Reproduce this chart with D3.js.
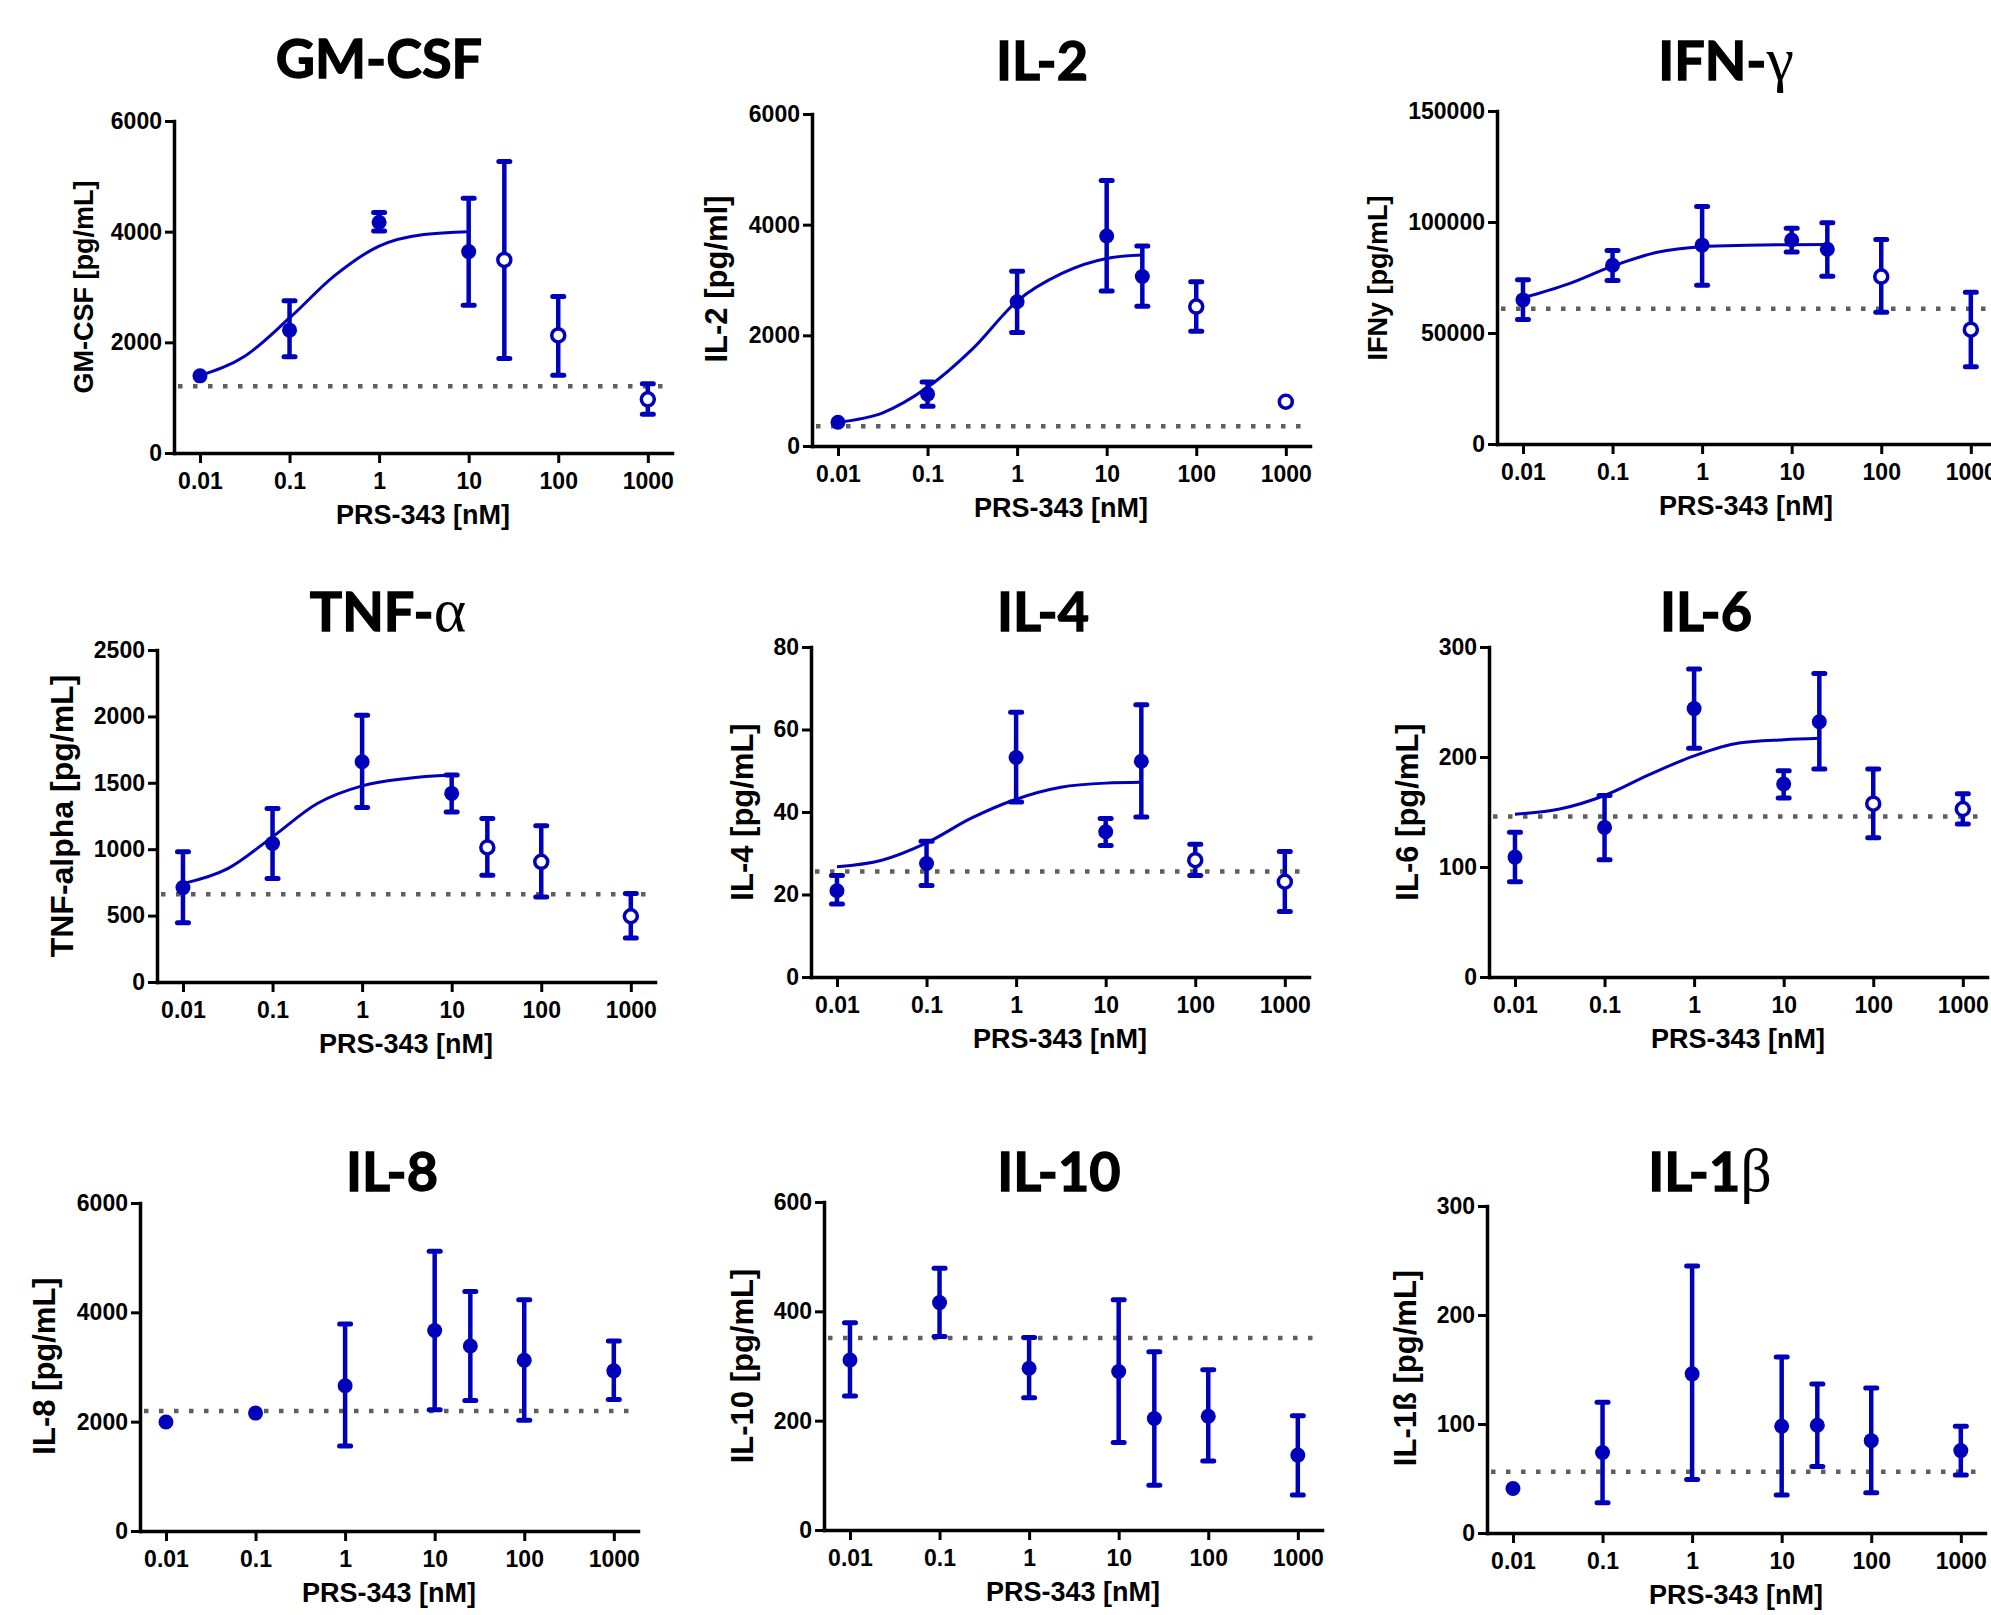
<!DOCTYPE html>
<html>
<head>
<meta charset="utf-8">
<script src="https://cdn.jsdelivr.net/npm/d3@7"></script>
<style>
  html, body { margin: 0; padding: 0; background: #fff; }
  svg { display: block; }
  text { font-family: "Liberation Sans", Arial, sans-serif; font-weight: bold; fill: #000; }
  .title { font-family: Lato, "Open Sans", sans-serif; font-weight: 700; stroke: #000; stroke-width: 1.3px; }
  .greek { font-family: "Liberation Serif", "DejaVu Serif", serif; font-weight: normal; stroke: none; }
</style>
</head>
<body>
<svg id="chart"></svg>
<script>
const W = 1991, H = 1615;
const BLUE = '#0000bb';

const doses = [0.01, 0.1, 1, 10, 25, 100, 1000];
const xTickValues = [0.01, 0.1, 1, 10, 100, 1000];
const xTickLabels = ['0.01', '0.1', '1', '10', '100', '1000'];
const fitDoses = [0.01, 0.0316, 0.1, 0.316, 1, 3.16, 10, 25];

// GM-CSF
const gmcsfMean = [1394, 2220, 4170, 3640, 3490, 2125, 970];
const gmcsfLow  = [null, 1740, 4013, 2670, 1706, 1406, 700];
const gmcsfHigh = [null, 2750, 4345, 4605, 5270, 2830, 1250];
const gmcsfOpen = [25, 100, 1000];
const gmcsfFit  = [1400, 1750, 2440, 3200, 3740, 3950, 4000];
const gmcsfBaseline = 1206;
const gmcsfTicks = [0, 2000, 4000, 6000];

// IL-2
const il2Mean = [430, 938, 2606, 3794, 3063, 2519, 800];
const il2Low  = [null, 719, 2050, 2800, 2525, 2075, null];
const il2High = [null, 1156, 3156, 4800, 3613, 2969, null];
const il2Open = [100, 1000];
const il2Fit  = [430, 600, 1060, 1750, 2620, 3120, 3390, 3450];
const il2Baseline = 356;
const il2Ticks = [0, 2000, 4000, 6000];

// IFN-gamma
const ifngMean = [64900, 80500, 89560, 91900, 87700, 75400, 51500];
const ifngLow  = [56100, 73660, 71560, 86500, 75600, 59300, 34800];
const ifngHigh = [73960, 87200, 107000, 97200, 99700, 92100, 68400];
const ifngOpen = [100, 1000];
const ifngFit  = [65800, 72000, 80100, 86400, 88900, 89500, 89800, 89900];
const ifngBaseline = 60900;
const ifngTicks = [0, 50000, 100000, 150000];

// TNF-alpha
const tnfMean = [711, 1043, 1658, 1420, 1013, 905, 495];
const tnfLow  = [447, 779, 1314, 1281, 804, 641, 332];
const tnfHigh = [980, 1307, 2008, 1558, 1231, 1176, 666];
const tnfOpen = [25, 100, 1000];
const tnfFit  = [741, 854, 1093, 1344, 1477, 1533, 1558];
const tnfBaseline = 661;
const tnfTicks = [0, 500, 1000, 1500, 2000, 2500];

// IL-4
const il4Mean = [20.9, 27.5, 53.2, 35.2, 52.3, 28.3, 23.1];
const il4Low  = [17.7, 22.2, 42.4, 31.9, 38.8, 24.6, 15.9];
const il4High = [24.6, 32.9, 64.2, 38.4, 66.0, 32.2, 30.4];
const il4Open = [100, 1000];
const il4Fit  = [26.7, 28.3, 32.5, 38.5, 43.1, 46.0, 47.0, 47.2];
const il4Baseline = 25.6;
const il4Ticks = [0, 20, 40, 60, 80];

// IL-6
const il6Mean = [109, 136, 244, 175.5, 232, 157.6, 152.7];
const il6Low  = [86.7, 106.7, 208, 162.7, 189, 126.7, 139];
const il6High = [131.5, 165, 280, 187.6, 276, 189, 166.7];
const il6Open = [100, 1000];
const il6Fit  = [148, 152.7, 165, 184, 201, 212.7, 215.7, 217];
const il6Baseline = 146;
const il6Ticks = [0, 100, 200, 300];

// IL-8
const il8Mean = [1994, 2157, 2658, 3667, 3384, 3124, 2930];
const il8Low  = [null, null, 1553, 2217, 2387, 2024, 2405];
const il8High = [null, null, 3788, 5118, 4380, 4229, 3474];
const il8Baseline = 2193;
const il8Ticks = [0, 2000, 4000, 6000];

// IL-10
const il10Mean = [311, 416, 296, 290, 204, 208, 137];
const il10Low  = [245, 354, 242, 160, 82, 126, 64];
const il10High = [379, 479, 352, 421, 326, 293, 209];
const il10Baseline = 351;
const il10Ticks = [0, 200, 400, 600];

// IL-1beta
const il1bMean = [40.8, 73.8, 146, 98, 98.9, 84.7, 75.6];
const il1bLow  = [null, 27.8, 49, 34.8, 61, 36.9, 53.2];
const il1bHigh = [null, 120, 245, 161.5, 136.7, 133, 98];
const il1bBaseline = 56.2;
const il1bTicks = [0, 100, 200, 300];

const panels = [
  { title: 'GM-CSF', greek: '', yLabel: 'GM-CSF [pg/mL]', mean: gmcsfMean, low: gmcsfLow, high: gmcsfHigh,
    open: gmcsfOpen, fit: gmcsfFit, baseline: gmcsfBaseline, ticks: gmcsfTicks,
    axisX: 174, top: 121, bottom: 453, titleX: 379, titleY: 78, labelX: 93, labelY: 287, labelSize: 27 },
  { title: 'IL-2', greek: '', yLabel: 'IL-2 [pg/ml]', mean: il2Mean, low: il2Low, high: il2High,
    open: il2Open, fit: il2Fit, baseline: il2Baseline, ticks: il2Ticks,
    axisX: 812, top: 114, bottom: 446, titleX: 1042, titleY: 80, labelX: 727, labelY: 279, labelSize: 31 },
  { title: 'IFN-', greek: 'γ', yLabel: 'IFNy [pg/mL]', mean: ifngMean, low: ifngLow, high: ifngHigh,
    open: ifngOpen, fit: ifngFit, baseline: ifngBaseline, ticks: ifngTicks,
    axisX: 1497, top: 111, bottom: 444, titleX: 1726, titleY: 80, labelX: 1387, labelY: 278, labelSize: 27 },
  { title: 'TNF-', greek: 'α', yLabel: 'TNF-alpha [pg/mL]', mean: tnfMean, low: tnfLow, high: tnfHigh,
    open: tnfOpen, fit: tnfFit, baseline: tnfBaseline, ticks: tnfTicks,
    axisX: 157, top: 650, bottom: 982, titleX: 388, titleY: 631, labelX: 73, labelY: 816, labelSize: 32 },
  { title: 'IL-4', greek: '', yLabel: 'IL-4 [pg/mL]', mean: il4Mean, low: il4Low, high: il4High,
    open: il4Open, fit: il4Fit, baseline: il4Baseline, ticks: il4Ticks,
    axisX: 811, top: 647, bottom: 977, titleX: 1043, titleY: 631, labelX: 753, labelY: 812, labelSize: 31 },
  { title: 'IL-6', greek: '', yLabel: 'IL-6 [pg/mL]', mean: il6Mean, low: il6Low, high: il6High,
    open: il6Open, fit: il6Fit, baseline: il6Baseline, ticks: il6Ticks,
    axisX: 1489, top: 647, bottom: 977, titleX: 1706, titleY: 631, labelX: 1418, labelY: 812, labelSize: 31 },
  { title: 'IL-8', greek: '', yLabel: 'IL-8 [pg/mL]', mean: il8Mean, low: il8Low, high: il8High,
    open: [], fit: null, baseline: il8Baseline, ticks: il8Ticks,
    axisX: 140, top: 1203, bottom: 1531, titleX: 392, titleY: 1191, labelX: 55, labelY: 1366, labelSize: 31 },
  { title: 'IL-10', greek: '', yLabel: 'IL-10 [pg/mL]', mean: il10Mean, low: il10Low, high: il10High,
    open: [], fit: null, baseline: il10Baseline, ticks: il10Ticks,
    axisX: 824, top: 1202, bottom: 1530, titleX: 1059, titleY: 1191, labelX: 753, labelY: 1366, labelSize: 31 },
  { title: 'IL-1', greek: 'β', yLabel: 'IL-1ß [pg/mL]', mean: il1bMean, low: il1bLow, high: il1bHigh,
    open: [], fit: null, baseline: il1bBaseline, ticks: il1bTicks,
    axisX: 1487, top: 1206, bottom: 1533, titleX: 1710, titleY: 1191, labelX: 1416, labelY: 1368, labelSize: 31 }
];

const svg = d3.select('#chart').attr('width', W).attr('height', H);
svg.append('rect').attr('width', W).attr('height', H).attr('fill', '#fff');

const PLOT_W = 498;

panels.forEach(p => {
  const g = svg.append('g');
  const x = d3.scaleLog()
    .domain([Math.pow(10, -2.29), Math.pow(10, 3.27)])
    .range([p.axisX, p.axisX + PLOT_W]);
  const y = d3.scaleLinear().domain([0, d3.max(p.ticks)]).range([p.bottom, p.top]);

  // title
  const t = g.append('text').attr('class', 'title')
    .attr('x', p.titleX).attr('y', p.titleY)
    .attr('text-anchor', 'middle').attr('font-size', 54);
  t.append('tspan').text(p.title);
  if (p.greek) t.append('tspan').attr('class', 'greek').attr('font-size', 62).text(p.greek);

  // axes
  const yAxis = g.append('g').attr('transform', `translate(${p.axisX},0)`)
    .call(d3.axisLeft(y).tickValues(p.ticks).tickFormat(d3.format('d'))
      .tickSize(9).tickSizeOuter(0).tickPadding(3));
  const xAxis = g.append('g').attr('transform', `translate(0,${p.bottom})`)
    .call(d3.axisBottom(x).tickValues(xTickValues)
      .tickFormat((d, i) => xTickLabels[i])
      .tickSize(10).tickSizeOuter(0).tickPadding(10));
  [yAxis, xAxis].forEach(a => {
    a.select('.domain').attr('stroke', '#000').attr('stroke-width', 3.5).attr('stroke-linecap', 'square');
    a.selectAll('.tick line').attr('stroke', '#000').attr('stroke-width', 3);
    a.selectAll('.tick text').attr('font-size', 23).attr('fill', '#000')
      .attr('font-family', '"Liberation Sans", Arial, sans-serif').attr('font-weight', 'bold');
  });

  // axis labels
  g.append('text')
    .attr('transform', `translate(${p.labelX},${p.labelY}) rotate(-90)`)
    .attr('text-anchor', 'middle').attr('font-size', p.labelSize)
    .text(p.yLabel);
  g.append('text')
    .attr('x', p.axisX + PLOT_W / 2).attr('y', p.bottom + 71)
    .attr('text-anchor', 'middle').attr('font-size', 27)
    .text('PRS-343 [nM]');

  // dotted baseline
  g.append('line')
    .attr('x1', p.axisX + 4).attr('x2', p.axisX + PLOT_W)
    .attr('y1', y(p.baseline)).attr('y2', y(p.baseline))
    .attr('stroke', '#5f5f5f').attr('stroke-width', 4.5)
    .attr('stroke-dasharray', '4.5 10.5');

  // fitted curve
  if (p.fit) {
    const pts = p.fit.map((v, i) => [fitDoses[i], v]);
    g.append('path')
      .attr('d', d3.line().x(d => x(d[0])).y(d => y(d[1])).curve(d3.curveMonotoneX)(pts))
      .attr('fill', 'none').attr('stroke', BLUE).attr('stroke-width', 3);
  }

  const rows = doses.map((d, i) => ({
    dose: d, mean: p.mean[i], low: p.low[i], high: p.high[i], open: p.open.includes(d)
  }));

  // error bars
  const eb = g.append('g').attr('stroke', BLUE);
  rows.filter(r => r.low != null).forEach(r => {
    const cx = x(r.dose);
    eb.append('line').attr('x1', cx).attr('x2', cx)
      .attr('y1', y(r.low)).attr('y2', y(r.high)).attr('stroke-width', 4.5);
    [r.low, r.high].forEach(v => {
      eb.append('line').attr('x1', cx - 5.5).attr('x2', cx + 5.5)
        .attr('y1', y(v)).attr('y2', y(v))
        .attr('stroke-width', 5).attr('stroke-linecap', 'round');
    });
  });

  // markers
  g.selectAll('circle.pt').data(rows).enter().append('circle')
    .attr('class', 'pt')
    .attr('cx', d => x(d.dose)).attr('cy', d => y(d.mean))
    .attr('r', d => d.open ? 6.5 : 7.5)
    .attr('fill', d => d.open ? '#fff' : BLUE)
    .attr('stroke', BLUE)
    .attr('stroke-width', d => d.open ? 3.5 : 0);
});
</script>
</body>
</html>
